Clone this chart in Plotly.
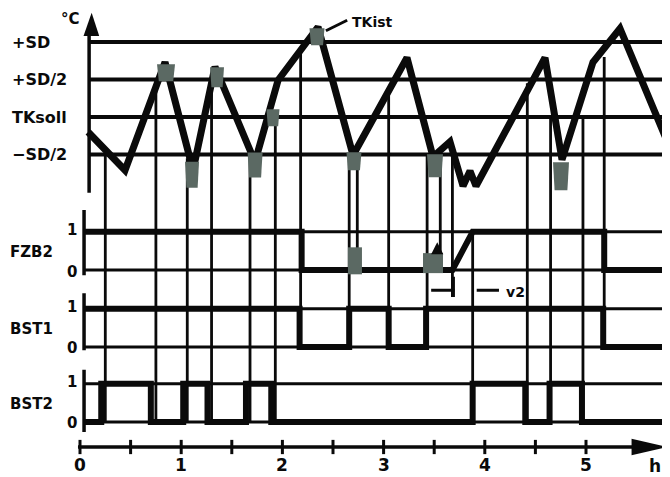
import numpy as np
import plotly.graph_objects as go

# ---------------- data ----------------
# TKist curve: time [h], temperature relative to TKsoll in units of SD
tk_time = [0.08, 0.445, 0.84, 1.117, 1.334, 1.729, 1.957, 2.352, 2.698, 3.231,
           3.488, 3.656, 3.785, 3.854, 3.913, 4.595, 4.763, 5.069, 5.336, 5.81]
tk_temp = [-0.20, -0.71, 0.73, -0.71, 0.67, -0.60, 0.49, 1.20, -0.51, 0.79,
           -0.53, -0.33, -0.92, -0.72, -0.92, 0.79, -0.57, 0.73, 1.18, -0.35]

# threshold lines (units of SD)
thr_values = [1.0, 0.5, 0.0, -0.5]
thr_labels = ["+SD", "+SD/2", "TKsoll", "\u2212SD/2"]

# switching signals (0/1)
fzb2_t = [0.05, 2.19, 2.19, 3.68, 3.88, 5.18, 5.18, 5.78]
fzb2_v = [1, 1, 0, 0, 1, 1, 0, 0]
bst1_t = [0.04, 2.17, 2.66, 3.05, 3.42, 5.17, 5.78]
bst1_v = [1, 0, 1, 0, 1, 0, 0]
bst2_t = [0.04, 0.21, 0.70, 1.02, 1.26, 1.64, 1.89, 3.88, 4.40, 4.64, 4.96, 5.78]
bst2_v = [0, 1, 0, 1, 0, 1, 0, 1, 0, 1, 0, 0]

# vertical event lines: time, start temperature, signal row where they end
vl_time = [0.25, 0.75, 1.06, 1.30, 1.68, 1.93, 2.18, 2.66, 2.74, 3.05,
           3.43, 3.56, 3.68, 4.42, 4.65, 4.97, 5.18]
vl_from = [-0.5, 0.5, -0.55, 0.5, -0.5, 0.0, 0.92, -0.55, -0.5, 0.36,
           -0.5, -0.45, -0.42, 0.45, 0.0, 0.0, 0.8]
vl_to = ["BST2", "BST2", "BST2", "BST2", "BST2", "BST2", "BST1", "BST1", "FZB2", "BST1",
         "BST1", "FZB2", "V2", "BST2", "BST2", "BST2", "BST1"]
ramp_end_time = 3.88

# grey switching marks on TKist
mk_time = [0.85, 1.107, 1.354, 1.73, 1.907, 2.342, 2.707, 3.508, 4.753]
mk_temp = [0.59, -0.77, 0.53, -0.64, -0.01, 1.07, -0.59, -0.65, -0.79]
# grey marks on FZB2
fmk_time = [2.717, 3.488]
fmk_val = [0.24, 0.18]

x_ticks = [0, 1, 2, 3, 4, 5]
x_tick_labels = ["0", "1", "2", "3", "4", "5"]
x_minor = [0.5, 1.5, 2.5, 3.5, 4.5]

# ---------------- layout constants ----------------
W, H = 662, 469          # page body keeps an 8 px margin
OFF = 8
PXH = 101.2   # px per hour
PXT = 75.0    # px per SD
X0PX = 80 - OFF
Y0PX = 117 - OFF
XR = [-X0PX / PXH, (W - X0PX) / PXH]
YR = [(Y0PX - H) / PXT, Y0PX / PXT]
LEVEL0 = {"FZB2": -2.04, "BST1": -3.065, "BST2": -4.065}
AMP = 0.51
V2_Y = -2.31
X_AXIS_Y = -4.4
BLACK = "#0a0a0a"
GREY = "#5b6963"
FONT = "DejaVu Sans"

mk_w = [18, 14, 14, 15, 13, 15, 15, 16, 16]
mk_h = [17, 26, 20, 25, 17, 17, 18, 23, 28]
fmk_w = [14, 20]
fmk_h = [27, 20]


def lev(sig, v):
    return LEVEL0[sig] + AMP * np.asarray(v, dtype=float)


fig = go.Figure()


def add_line(x, y, w, color=BLACK, shape="linear"):
    fig.add_trace(go.Scatter(x=x, y=y, mode="lines", line=dict(color=color, width=w, shape=shape),
                             hoverinfo="skip", showlegend=False))


# threshold lines
hx, hy = [], []
for v in thr_values:
    hx += [0.09, XR[1], None]
    hy += [v, v, None]
add_line(hx, hy, 4)

# signal reference lines (0 and 1)
rx, ry = [], []
for sig in ["FZB2", "BST1", "BST2"]:
    for v in (0, 1):
        rx += [0.04, 5.78, None]
        ry += [float(lev(sig, v)), float(lev(sig, v)), None]
add_line(rx, ry, 3)

# vertical event lines
vx, vy = [], []
for t, f, to in zip(vl_time, vl_from, vl_to):
    end = V2_Y - 0.09 if to == "V2" else LEVEL0[to]
    vx += [t, t, None]
    vy += [f, end, None]
vx += [ramp_end_time, ramp_end_time, None]
vy += [float(lev("FZB2", 1)), LEVEL0["BST2"], None]
add_line(vx, vy, 2.8)

# thick signals
add_line(fzb2_t, lev("FZB2", fzb2_v), 6)
add_line(bst1_t, lev("BST1", bst1_v), 6, shape="hv")
add_line(bst2_t, lev("BST2", bst2_v), 6, shape="hv")

# TKist curve
add_line(tk_time, tk_temp, 7)

# axes
add_line([0.09, 0.09], [1.12, -1.01], 3.5)
for a, b in [(-1.24, -2.11), (-2.35, -3.11), (-3.37, -4.20)]:
    add_line([0.04, 0.04], [a, b], 3.5)
add_line([-0.02, 5.5], [X_AXIS_Y, X_AXIS_Y], 3.5)
tx, ty = [], []
for t in x_ticks + x_minor:
    tx += [t, t, None]
    ty += [X_AXIS_Y + 0.095, X_AXIS_Y - 0.095, None]
add_line(tx, ty, 3)

# TKist pointer line
add_line([2.43, 2.64], [1.15, 1.29], 3)

# v2 dimension
add_line([3.47, 3.70], [V2_Y, V2_Y], 3)
add_line([3.92, 4.14], [V2_Y, V2_Y], 3)
add_line([3.69, 3.69], [V2_Y + 0.18, V2_Y - 0.09], 3)

shapes = []
# arrow heads
shapes.append(dict(type="path", xref="x", yref="y", layer="above",
                   path="M 0.035 1.08 L 0.115 1.39 L 0.19 1.08 Z",
                   fillcolor=BLACK, line=dict(width=0)))
shapes.append(dict(type="path", xref="x", yref="y", layer="above",
                   path=f"M 5.45 {X_AXIS_Y+0.11} L 5.80 {X_AXIS_Y} L 5.45 {X_AXIS_Y-0.11} Z",
                   fillcolor=BLACK, line=dict(width=0)))
# grey marks
for t, v, w, h in zip(mk_time, mk_temp, mk_w, mk_h):
    dx, dy = w / 2 / PXH, h / 2 / PXT
    shapes.append(dict(type="path", xref="x", yref="y", layer="above",
                       path=f"M {t-dx} {v+dy} L {t+dx} {v+dy} L {t+dx*0.8} {v-dy} L {t-dx*0.8} {v-dy} Z",
                       fillcolor=GREY, line=dict(width=0)))
for t, v, w, h in zip(fmk_time, fmk_val, fmk_w, fmk_h):
    dx, dy = w / 2 / PXH, h / 2 / PXT
    y = float(lev("FZB2", v))
    shapes.append(dict(type="rect", xref="x", yref="y", layer="above",
                       x0=t - dx, x1=t + dx, y0=y - dy, y1=y + dy,
                       fillcolor=GREY, line=dict(width=0)))
# small black tip on second FZB2 mark
yt = float(lev("FZB2", 0.55))
shapes.append(dict(type="path", xref="x", yref="y", layer="above",
                   path=f"M 3.47 {yt-0.07} L 3.53 {yt+0.09} L 3.59 {yt-0.07} Z",
                   fillcolor=BLACK, line=dict(width=0)))

ann = []


def text(x, y, s, size=15, xanchor="center", xref="x"):
    ann.append(dict(x=x, y=y, xref=xref, yref="y", text=s, showarrow=False,
                    xanchor=xanchor, yanchor="middle",
                    font=dict(family=FONT, size=size, color=BLACK, weight="bold")))


for v, s in zip(thr_values, thr_labels):
    text((10 - OFF) / W, v, s, size=16, xanchor="left", xref="paper")
for sig in ["FZB2", "BST1", "BST2"]:
    text(0, float(lev(sig, 0.5)) - 0.02, sig, size=15, xanchor="left", xref="paper")
    text(-0.08, float(lev(sig, 1)) + 0.02, "1", size=15)
    text(-0.08, float(lev(sig, 0)) - 0.02, "0", size=15)
for t, s in zip(x_ticks, x_tick_labels):
    text(t, -4.64, s, size=17)
text(5.68, -4.65, "h", size=17)
text(-0.09, 1.31, "°C", size=15)
text(2.67, 1.27, "TKist", size=14, xanchor="left")
text(4.19, V2_Y - 0.02, "v2", size=14, xanchor="left")

fig.update_layout(
    width=W, height=H,
    margin=dict(l=0, r=0, t=0, b=0),
    paper_bgcolor="white", plot_bgcolor="white",
    xaxis=dict(range=XR, visible=False, fixedrange=True),
    yaxis=dict(range=YR, visible=False, fixedrange=True),
    shapes=shapes, annotations=ann, showlegend=False,
)
fig.write_html("out.html")
